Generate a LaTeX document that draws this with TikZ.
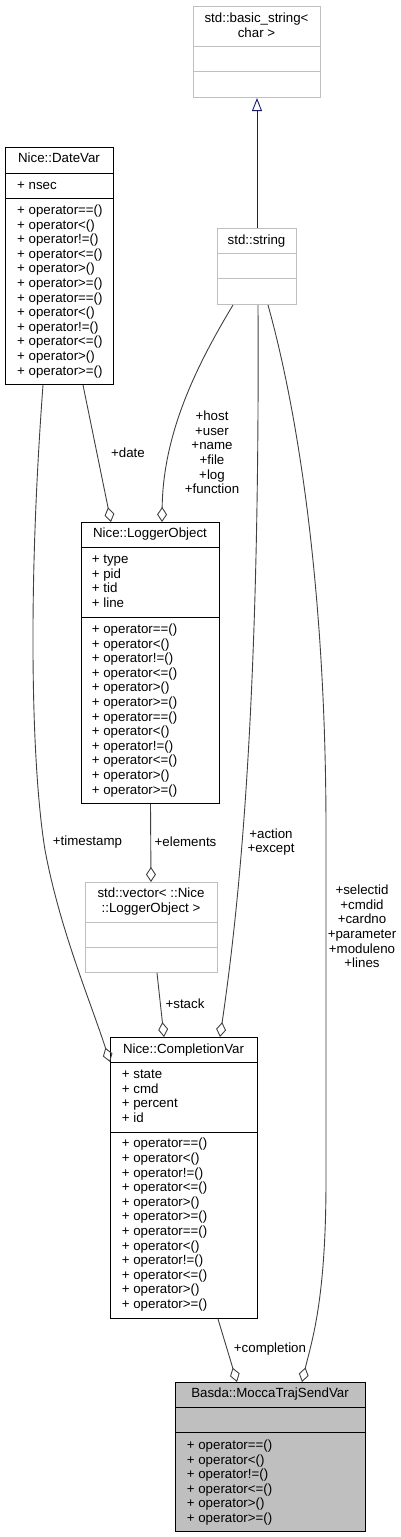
\documentclass[tikz,border=0pt]{standalone}
\usepackage{fontspec}
\setmainfont{Liberation Sans}
\usetikzlibrary{arrows.meta}
\definecolor{midnightblue}{RGB}{25,25,112}

\tikzset{
  cls/.style={draw=black, line width=1pt, anchor=north west, inner sep=0pt},
  extcls/.style={cls, draw=black!25},
  sep/.style={draw=black, line width=1pt},
  extsep/.style={draw=black!25, line width=1pt},
  title/.style={anchor=base, inner sep=0pt},
  member/.style={anchor=base west, inner sep=0pt},
  role/.style={align=center, inner sep=0pt},
  agg/.style={draw=black!75, line width=0.9pt, -{Diamond[open, length=15pt, width=10pt]}},
  inherit/.style={draw=midnightblue, line width=0.9pt, -{Triangle[open, length=13pt, width=10pt]}}
}

\begin{document}
\begin{tikzpicture}[x=1pt, y=-1pt, font=\fontsize{13.3}{14.6}\selectfont]
\useasboundingbox (0,0) rectangle (401,1537);

\node[extcls, minimum width=127pt, minimum height=91pt] (basic) at (193,6) {};
\draw[extsep] (basic.west |- 0,46) -- (basic.east |- 0,46);
\draw[extsep] (basic.west |- 0,71) -- (basic.east |- 0,71);
\node[title] (basic-t1) at (256.5,22.5) {std::basic\_string<};
\node[title] (basic-t2) at (256.5,37.5) {char >};

\node[extcls, minimum width=79pt, minimum height=76pt] (string) at (217,228) {};
\draw[extsep] (string.west |- 0,253) -- (string.east |- 0,253);
\draw[extsep] (string.west |- 0,278) -- (string.east |- 0,278);
\node[title] (string-t) at (256.5,244.5) {std::string};

\node[cls, minimum width=108pt, minimum height=237pt] (datevar) at (5,147) {};
\draw[sep] (datevar.west |- 0,173) -- (datevar.east |- 0,173);
\draw[sep] (datevar.west |- 0,198) -- (datevar.east |- 0,198);
\node[title] (datevar-t) at (59,162.5) {Nice::DateVar};
\node[member] (datevar-a) at (17,189.5) {+ nsec};
\foreach \op [count=\i from 0] in {==,<,!=,<=,>,>=,==,<,!=,<=,>,>=}
  \node[member] (datevar-op\i) at (17,214.5+14.6*\i) {+ operator\op()};

\node[cls, minimum width=138pt, minimum height=281pt] (logger) at (81,522) {};
\draw[sep] (logger.west |- 0,547) -- (logger.east |- 0,547);
\draw[sep] (logger.west |- 0,617) -- (logger.east |- 0,617);
\node[title] (logger-t) at (150,537.8) {Nice::LoggerObject};
\foreach \at [count=\i from 0] in {type,pid,tid,line}
  \node[member] (logger-a\i) at (91.7,563.5+14.6*\i) {+ \at};
\foreach \op [count=\i from 0] in {==,<,!=,<=,>,>=,==,<,!=,<=,>,>=}
  \node[member] (logger-op\i) at (91.7,633.5+14.6*\i) {+ operator\op()};

\node[extcls, minimum width=132pt, minimum height=90pt] (vector) at (85,882) {};
\draw[extsep] (vector.west |- 0,922) -- (vector.east |- 0,922);
\draw[extsep] (vector.west |- 0,947) -- (vector.east |- 0,947);
\node[title] (vector-t1) at (151,897.5) {std::vector< ::Nice};
\node[title] (vector-t2) at (151,912.5) {::LoggerObject >};

\node[cls, minimum width=147pt, minimum height=281pt] (completion) at (110,1037) {};
\draw[sep] (completion.west |- 0,1062) -- (completion.east |- 0,1062);
\draw[sep] (completion.west |- 0,1132) -- (completion.east |- 0,1132);
\node[title] (completion-t) at (183.5,1053.2) {Nice::CompletionVar};
\foreach \at [count=\i from 0] in {state,cmd,percent,id}
  \node[member] (completion-a\i) at (121.7,1078.5+14.6*\i) {+ \at};
\foreach \op [count=\i from 0] in {==,<,!=,<=,>,>=,==,<,!=,<=,>,>=}
  \node[member] (completion-op\i) at (121.7,1147.8+14.6*\i) {+ operator\op()};

\node[cls, fill=black!25, minimum width=190pt, minimum height=149pt] (mocca) at (175,1382) {};
\draw[sep] (mocca.west |- 0,1407) -- (mocca.east |- 0,1407);
\draw[sep] (mocca.west |- 0,1432) -- (mocca.east |- 0,1432);
\node[title] (mocca-t) at (270,1397.8) {Basda::MoccaTrajSendVar};
\foreach \op [count=\i from 0] in {==,<,!=,<=,>,>=}
  \node[member] (mocca-op\i) at (186.7,1449.5+14.6*\i) {+ operator\op()};

\draw[inherit] (string.north) -- (basic.south);

\draw[agg] (datevar.south -| 83,0) -- (logger.north -| 111,0);
\node[role] (date-l) at (128,453) {+date};

\draw[agg] (string.south -| 233,0) .. controls (200,360) and (163,430) .. (logger.north -| 162,0);
\node[role] (logger-l) at (212,452.5) {+host\\+user\\+name\\+file\\+log\\+function};

\draw[agg] (datevar.south -| 43,0) .. controls (27,600) and (32,770) .. (45,850)
  .. controls (60,930) and (90,1000) .. (completion.west |- 0,1062);
\node[role] (timestamp-l) at (87.5,842) {+timestamp};

\draw[agg] (logger.south) -- (vector.north -| 151,0);
\node[role] (elements-l) at (185.5,842) {+elements};

\draw[agg] (vector.south -| 157,0) -- (completion.north -| 164,0);
\node[role] (stack-l) at (185,1004) {+stack};

\draw[agg] (string.south -| 258,0) .. controls (260,700) and (240,900) .. (completion.north -| 220,0);
\node[role] (action-l) at (271,842) {+action\\+except};

\draw[agg] (string.south -| 268,0) .. controls (300,420) and (326,600) .. (326,830) -- (326,1180)
  .. controls (326,1300) and (312,1340) .. (mocca.north -| 302,0);
\node[role] (mocca-l) at (362,926.5) {+selectid\\+cmdid\\+cardno\\+parameter\\+moduleno\\+lines};

\draw[agg] (completion.south -| 218,0) -- (mocca.north -| 237,0);
\node[role] (completion-l) at (270,1349) {+completion};
\end{tikzpicture}
\end{document}
